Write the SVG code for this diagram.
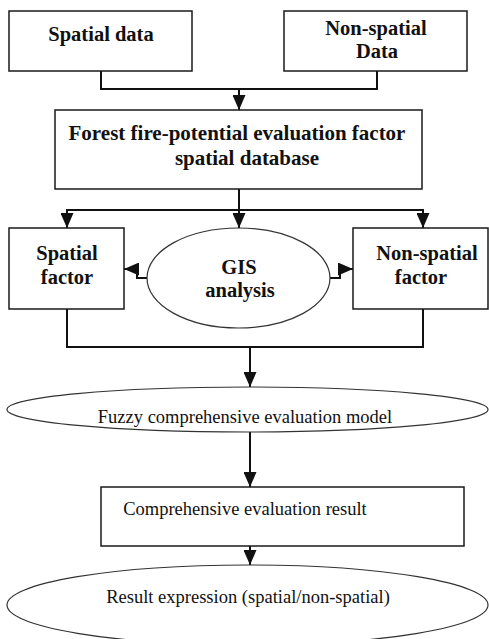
<svg xmlns="http://www.w3.org/2000/svg" width="489" height="639" viewBox="0 0 489 639">
<style>
.box{fill:#fff;stroke:#1a1a1a;stroke-width:1.5}
.ell{fill:#fff;stroke:#333;stroke-width:1.2}
text{font-family:'Liberation Serif','Times New Roman',Times,'DejaVu Serif',serif;fill:#111;text-anchor:middle}
.b{font-weight:bold;font-size:20.5px}
.bl{font-weight:bold;font-size:21px}
.r{font-size:18.5px}
.c{fill:none;stroke:#111;stroke-width:2}
</style>
<defs>
<marker id="ah" markerUnits="userSpaceOnUse" markerWidth="15" markerHeight="13" refX="15" refY="6.5" orient="auto">
<path d="M0,0 L15,6.5 L0,13 z" fill="#111"/>
</marker>
</defs>
<g id="connectors">
<path class="c" d="M101,71 V89 H377 V71"/>
<path class="c" d="M239,89 V110" marker-end="url(#ah)"/>
<path class="c" d="M239,189 V228" marker-end="url(#ah)"/>
<path class="c" d="M239,210 H67 V228" marker-end="url(#ah)"/>
<path class="c" d="M239,210 H423 V228" marker-end="url(#ah)"/>
<path class="c" d="M147,278 H137 V269 H124" marker-end="url(#ah)"/>
<path class="c" d="M330,278 H340 V269 H353" marker-end="url(#ah)"/>
<path class="c" d="M67,309 V347 H423 V309"/>
<path class="c" d="M250,347 V387" marker-end="url(#ah)"/>
<path class="c" d="M250,432 V487" marker-end="url(#ah)"/>
<path class="c" d="M250,546 V565" marker-end="url(#ah)"/>
</g>
<g id="spatial-data">
<rect class="box" x="9" y="11" width="183" height="60"/>
<text class="b" x="101" y="41">Spatial data</text>
</g>
<g id="non-spatial-data">
<rect class="box" x="284" y="11" width="183" height="60"/>
<text class="b" x="376" y="35">Non-spatial</text>
<text class="b" x="377" y="58">Data</text>
</g>
<g id="database">
<rect class="box" x="55" y="110" width="367" height="79"/>
<text class="bl" x="237" y="140">Forest fire-potential evaluation factor</text>
<text class="bl" x="247" y="165">spatial database</text>
</g>
<g id="spatial-factor">
<rect class="box" x="9" y="228" width="115" height="81"/>
<text class="b" x="67" y="260">Spatial</text>
<text class="b" x="67" y="284">factor</text>
</g>
<g id="gis-analysis">
<ellipse class="ell" cx="238.5" cy="278" rx="91.5" ry="50"/>
<text class="b" x="239" y="274">GIS</text>
<text class="b" x="240" y="297">analysis</text>
</g>
<g id="non-spatial-factor">
<rect class="box" x="353" y="228" width="135" height="81"/>
<text class="b" x="427" y="260">Non-spatial</text>
<text class="b" x="421" y="284">factor</text>
</g>
<g id="fuzzy-model">
<ellipse class="ell" cx="247.5" cy="409.5" rx="240.5" ry="22.5"/>
<text class="r" x="245" y="423">Fuzzy comprehensive evaluation model</text>
</g>
<g id="evaluation-result">
<rect class="box" x="101" y="487" width="363" height="59"/>
<text class="r" x="245" y="515">Comprehensive evaluation result</text>
</g>
<g id="result-expression">
<ellipse class="ell" cx="247.5" cy="605" rx="240.5" ry="40"/>
<text class="r" x="248" y="603">Result expression (spatial/non-spatial)</text>
</g>
</svg>
